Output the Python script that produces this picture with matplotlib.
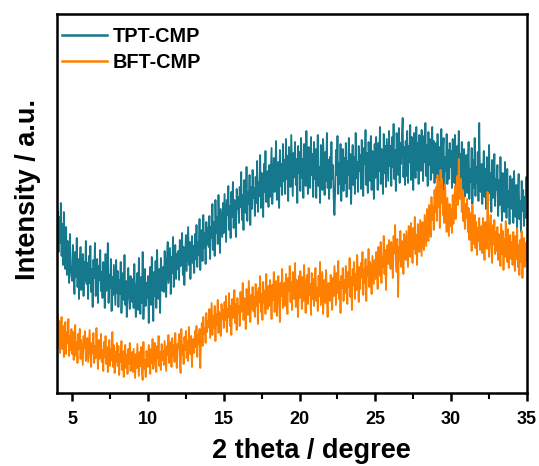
import numpy as np
import matplotlib
matplotlib.use("Agg")
import matplotlib.pyplot as plt

# Scan grid: 4.00 to 35.00 degrees 2-theta, 0.05 degree step
two_theta = np.round(np.arange(4.0, 35.0 + 1e-9, 0.05), 2)

# Intensities (a.u.), one row per degree of 2-theta
tpt_cmp = [
    158, 182, 141, 176, 150, 190, 137, 169, 128, 181, 146, 124, 166, 118, 152, 135, 110, 159, 126, 117,
    112, 148, 121, 99, 141, 116, 155, 106, 134, 94, 127, 146, 103, 123, 139, 97, 131, 112, 152, 109,
    130, 94, 137, 110, 147, 101, 124, 86, 133, 115, 150, 97, 108, 134, 90, 127, 113, 143, 102, 121,
    95, 131, 112, 85, 139, 102, 120, 150, 90, 118, 105, 134, 82, 116, 98, 128, 109, 88, 133, 100,
    122, 86, 113, 99, 131, 80, 106, 120, 93, 138, 88, 112, 76, 104, 125, 96, 84, 117, 107, 91,
    114, 85, 129, 93, 76, 108, 120, 83, 135, 98, 79, 116, 90, 141, 74, 103, 124, 87, 110, 95,
    117, 70, 104, 126, 88, 136, 109, 72, 121, 97, 132, 85, 143, 112, 94, 124, 80, 135, 116, 102,
    126, 101, 142, 117, 96, 134, 151, 110, 127, 145, 99, 136, 120, 156, 106, 131, 148, 114, 139, 124,
    142, 113, 153, 127, 138, 160, 118, 146, 108, 137, 158, 122, 143, 166, 128, 151, 114, 140, 157, 130,
    147, 120, 159, 134, 168, 126, 151, 138, 174, 123, 155, 163, 132, 178, 145, 160, 129, 171, 149, 165,
    146, 177, 134, 166, 155, 189, 143, 171, 137, 193, 160, 176, 149, 198, 165, 140, 184, 170, 156, 190,
    160, 199, 174, 151, 193, 178, 207, 163, 187, 155, 201, 176, 211, 165, 193, 181, 156, 204, 184, 196,
    170, 206, 186, 221, 173, 198, 163, 213, 191, 180, 226, 172, 201, 189, 218, 168, 206, 184, 223, 195,
    205, 177, 216, 190, 232, 181, 211, 197, 238, 185, 220, 204, 176, 229, 201, 242, 191, 214, 222, 186,
    228, 196, 219, 245, 189, 214, 235, 201, 224, 252, 193, 220, 231, 185, 243, 207, 229, 198, 249, 212,
    233, 199, 254, 214, 237, 192, 246, 221, 206, 258, 227, 197, 240, 216, 251, 208, 234, 190, 247, 220,
    241, 202, 255, 215, 234, 195, 249, 226, 207, 262, 223, 199, 246, 229, 205, 256, 218, 239, 196, 251,
    214, 244, 195, 231, 258, 207, 226, 190, 248, 219, 203, 254, 229, 198, 241, 212, 260, 205, 233, 194,
    236, 205, 251, 214, 228, 194, 178, 203, 243, 218, 257, 199, 230, 209, 249, 192, 226, 244, 202, 235,
    210, 250, 196, 232, 218, 255, 204, 239, 189, 228, 248, 208, 236, 199, 260, 215, 231, 201, 247, 222,
    238, 204, 253, 219, 197, 245, 229, 263, 208, 240, 200, 251, 225, 212, 257, 203, 242, 228, 194, 249,
    215, 256, 234, 203, 250, 222, 266, 209, 244, 230, 199, 259, 220, 247, 206, 254, 233, 212, 262, 227,
    247, 207, 256, 226, 269, 214, 243, 202, 260, 235, 218, 265, 210, 250, 229, 258, 275, 216, 246, 208,
    252, 217, 262, 210, 247, 231, 268, 213, 256, 227, 203, 260, 240, 215, 266, 223, 250, 209, 258, 236,
    222, 263, 243, 212, 257, 231, 270, 217, 248, 207, 261, 228, 254, 213, 243, 266, 220, 252, 210, 238,
    250, 215, 259, 227, 205, 246, 220, 264, 211, 240, 255, 203, 236, 222, 259, 209, 243, 214, 250, 226,
    242, 205, 254, 222, 210, 258, 232, 199, 247, 219, 262, 207, 239, 214, 251, 202, 231, 244, 196, 228,
    238, 200, 229, 251, 194, 224, 211, 245, 189, 233, 205, 255, 197, 226, 210, 241, 192, 270, 216, 201,
    229, 189, 218, 242, 196, 224, 184, 236, 207, 192, 248, 200, 220, 181, 233, 195, 212, 239, 187, 214,
    203, 228, 177, 213, 188, 236, 199, 172, 220, 193, 181, 231, 208, 175, 224, 186, 202, 169, 217, 192,
    184, 214, 170, 222, 190, 176, 208, 165, 199, 219, 174, 192, 161, 212, 182, 203, 167, 196, 175, 216,
    198,
]

bft_cmp = [
    60, 79, 46, 72, 40, 62, 76, 44, 67, 36, 58, 71, 39, 61, 50, 74, 37, 57, 43, 64,
    39, 61, 33, 55, 68, 37, 51, 30, 59, 44, 64, 34, 53, 41, 28, 57, 45, 62, 32, 49,
    55, 31, 46, 63, 37, 26, 50, 40, 60, 30, 47, 35, 65, 42, 24, 53, 34, 45, 59, 31,
    43, 22, 51, 36, 57, 29, 46, 21, 40, 53, 27, 44, 33, 61, 26, 48, 20, 41, 31, 50,
    27, 47, 18, 39, 31, 52, 23, 42, 16, 36, 48, 25, 38, 19, 44, 29, 50, 22, 35, 41,
    21, 44, 30, 15, 39, 25, 49, 32, 17, 41, 27, 46, 20, 13, 51, 24, 33, 16, 42, 31,
    26, 48, 37, 19, 44, 30, 54, 24, 39, 50, 28, 21, 47, 35, 57, 27, 41, 23, 49, 33,
    42, 28, 52, 36, 22, 47, 38, 58, 30, 44, 51, 26, 55, 37, 48, 31, 60, 40, 25, 49,
    45, 59, 34, 20, 64, 38, 48, 29, 56, 43, 62, 35, 52, 32, 66, 46, 39, 57, 26, 53,
    54, 40, 62, 46, 67, 36, 58, 49, 64, 25, 56, 70, 47, 76, 59, 65, 50, 80, 61, 72,
    66, 84, 55, 73, 90, 58, 77, 65, 87, 52, 79, 68, 93, 60, 81, 70, 57, 89, 74, 83,
    65, 91, 73, 97, 61, 84, 76, 100, 67, 87, 58, 94, 75, 82, 103, 70, 89, 63, 95, 80,
    87, 67, 101, 81, 91, 110, 73, 95, 86, 64, 104, 88, 78, 112, 92, 71, 98, 85, 106, 82,
    96, 76, 109, 87, 101, 69, 105, 91, 117, 81, 99, 73, 111, 90, 102, 79, 119, 95, 84, 107,
    87, 113, 98, 74, 108, 93, 121, 81, 104, 112, 77, 100, 117, 90, 71, 110, 97, 124, 85, 103,
    110, 87, 119, 97, 79, 115, 102, 127, 91, 111, 83, 121, 100, 94, 130, 86, 113, 101, 76, 117,
    95, 122, 105, 84, 116, 92, 128, 100, 80, 112, 118, 89, 125, 98, 109, 78, 120, 94, 114, 87,
    111, 125, 92, 105, 82, 117, 97, 131, 88, 104, 121, 79, 102, 113, 90, 123, 95, 76, 110, 99,
    92, 118, 104, 83, 115, 97, 127, 107, 88, 120, 100, 132, 94, 111, 80, 117, 105, 125, 92, 113,
    100, 127, 111, 89, 121, 106, 135, 96, 116, 83, 124, 108, 131, 94, 119, 103, 138, 112, 91, 126,
    104, 130, 116, 141, 98, 124, 110, 134, 92, 126, 117, 144, 106, 131, 120, 99, 137, 123, 109, 133,
    114, 141, 125, 104, 146, 128, 117, 151, 110, 136, 126, 157, 119, 143, 103, 138, 148, 129, 153, 135,
    124, 151, 137, 115, 157, 140, 168, 131, 121, 154, 96, 146, 133, 162, 126, 152, 139, 119, 159, 142,
    133, 162, 145, 126, 167, 148, 136, 170, 152, 130, 165, 144, 176, 139, 158, 128, 169, 150, 141, 173,
    155, 137, 171, 158, 143, 178, 162, 147, 184, 164, 152, 188, 170, 156, 196, 173, 187, 163, 203, 181,
    206, 172, 218, 186, 211, 165, 223, 190, 214, 178, 202, 170, 209, 183, 161, 195, 175, 157, 189, 167,
    184, 160, 198, 169, 191, 207, 174, 202, 217, 188, 234, 208, 194, 214, 181, 203, 172, 196, 164, 189,
    175, 194, 161, 185, 153, 180, 166, 142, 188, 158, 149, 178, 145, 171, 138, 165, 152, 175, 143, 163,
    167, 140, 175, 150, 133, 171, 156, 144, 201, 164, 136, 160, 178, 146, 130, 168, 149, 173, 139, 161,
    142, 166, 133, 159, 147, 127, 169, 139, 162, 123, 154, 136, 172, 143, 131, 164, 125, 150, 158, 134,
    151, 128, 161, 138, 122, 157, 134, 165, 126, 148, 118, 153, 131, 162, 115, 145, 155, 126, 150, 133,
    152,
]

series_names = ["TPT-CMP", "BFT-CMP"]
series_colors = ["#16788C", "#FF8000"]
x_ticks = [5, 10, 15, 20, 25, 30, 35]

plt.rcParams["font.family"] = ["Liberation Sans", "DejaVu Sans"]
plt.rcParams["font.weight"] = "bold"

fig = plt.figure(figsize=(5.39, 4.66), dpi=100)
ax = fig.add_axes([0.1058, 0.1567, 0.8719, 0.8133])

ax.plot(two_theta, tpt_cmp, color=series_colors[0], lw=1.3, label=series_names[0])
ax.plot(two_theta, bft_cmp, color=series_colors[1], lw=1.3, label=series_names[1])

ax.set_xlim(4, 35)
ax.set_ylim(0, 379)
ax.set_xticks(x_ticks)
ax.set_xticks(np.arange(7.5, 35, 5), minor=True)
ax.set_yticks([])
ax.tick_params(axis="x", which="major", direction="out", length=6, width=1.8,
               labelsize=13, pad=7)
ax.tick_params(axis="x", which="minor", direction="out", length=4, width=1.5)
for lab in ax.get_xticklabels():
    lab.set_fontweight("bold")
for sp in ax.spines.values():
    sp.set_linewidth(1.8)

ax.set_xlabel("2 theta / degree", fontsize=19.5, fontweight="bold", va="baseline")
ax.xaxis.set_label_coords(0.541, -0.172)
ax.set_ylabel("Intensity / a.u.", fontsize=19.5, fontweight="bold", va="baseline")
ax.yaxis.set_label_coords(-0.047, 0.536)

leg = ax.legend(loc="upper left", frameon=False, fontsize=14.3, handlelength=2.26,
                handletextpad=0.3, labelspacing=0.35, borderaxespad=0.05,
                borderpad=0.2, bbox_to_anchor=(0.0, 0.978))
for t in leg.get_texts():
    t.set_fontweight("bold")
for h in leg.get_lines():
    h.set_linewidth(1.8)

fig.savefig("out.png", dpi=100)
